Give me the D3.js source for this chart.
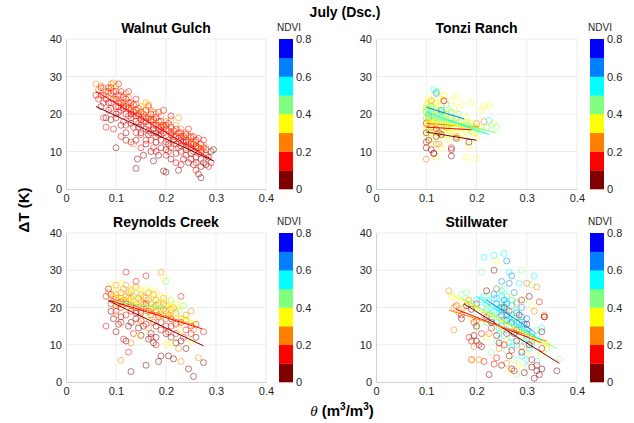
<!DOCTYPE html>
<html>
<head>
<meta charset="utf-8">
<script src="https://d3js.org/d3.v7.min.js"></script>
<style>
  body { margin: 0; background: #fff; }
  svg { font-family: "Liberation Sans", Arial, sans-serif; }
</style>
</head>
<body>
<div id="chart"></div>
<script>
// NDVI colour classes (jet, 8 steps)
var ndviBreaks = [0.1, 0.2, 0.3, 0.4, 0.5, 0.6, 0.7];
var ndviColors = ["#800000", "#ff0000", "#ff8000", "#ffff00", "#80ff80", "#00ffff", "#0080ff", "#0000ff"];
var cbTicks = [0, 0.2, 0.4, 0.6, 0.8];
var xTicks = [0, 0.1, 0.2, 0.3, 0.4];
var yTicks = [0, 10, 20, 30, 40];
var siteNames = ["Walnut Gulch", "Tonzi Ranch", "Reynolds Creek", "Stillwater"];

// points: [theta, dT] grouped by ndvi
var walnutGulch = [
  [0.05, [[0.07,22],[0.08,19],[0.09,18.5],[0.1,20],[0.1,11],[0.11,17],[0.12,15],[0.12,13],[0.13,17.5],[0.14,13],[0.14,5.5],[0.143,8],[0.15,15],[0.155,9],[0.16,12],[0.165,14.5],[0.17,10],[0.175,7.5],[0.18,12.5],[0.185,9],[0.19,11],[0.195,4.8],[0.2,4.5],[0.2,10.5],[0.21,8],[0.215,13],[0.22,9.5],[0.225,5],[0.23,11.5],[0.235,8],[0.24,10.5],[0.245,7],[0.25,9.5],[0.255,6.5],[0.26,8.5],[0.265,4],[0.27,3],[0.27,6],[0.275,7],[0.28,6.5],[0.29,10],[0.295,10.5],[0.285,8.5],[0.23,14],[0.175,16],[0.13,20],[0.085,23],[0.205,12],[0.25,11],[0.16,18],[0.19,14.5],[0.115,21.5],[0.145,16.5],[0.21,14.5],[0.24,12.5],[0.18,15],[0.26,11.5]]],
  [0.25, [[0.06,28],[0.065,26.5],[0.07,27.5],[0.075,27],[0.08,26],[0.09,28],[0.095,28.3],[0.1,27.5],[0.11,25],[0.12,25.5],[0.125,24.5],[0.13,22],[0.14,22.5],[0.15,22],[0.16,23],[0.165,22.5],[0.17,21],[0.175,20.5],[0.18,20],[0.19,19.5],[0.2,18],[0.21,18.5],[0.22,17],[0.225,19],[0.23,16],[0.24,15],[0.245,14],[0.25,13.5],[0.26,12.5],[0.265,11],[0.27,10.5],[0.28,11],[0.135,12],[0.155,19],[0.185,17],[0.205,14],[0.215,12],[0.24,11],[0.17,18],[0.195,16.5],[0.145,20],[0.115,23]]],
  [0.15, [[0.06,25],[0.065,24],[0.07,27],[0.075,25],[0.08,24],[0.085,26],[0.09,25.5],[0.09,23],[0.095,26],[0.1,24],[0.1,22],[0.105,25],[0.11,23],[0.11,21],[0.115,22],[0.12,24],[0.12,20],[0.125,21.5],[0.13,23],[0.13,19],[0.135,20.5],[0.14,21],[0.14,18],[0.145,19.5],[0.15,20.5],[0.15,17],[0.155,18],[0.16,21],[0.16,16],[0.165,19],[0.17,18.5],[0.17,15],[0.175,17],[0.18,19],[0.18,14],[0.185,16],[0.19,18],[0.19,13],[0.195,17],[0.2,16],[0.2,12.5],[0.205,17.5],[0.21,15],[0.21,11],[0.215,14],[0.22,16],[0.22,12],[0.225,13.5],[0.23,15],[0.23,10],[0.235,12.5],[0.24,13],[0.24,9],[0.245,11.5],[0.25,12],[0.25,8],[0.255,10],[0.26,11],[0.26,7],[0.265,9.5],[0.27,12],[0.27,8],[0.275,13],[0.28,9],[0.285,6],[0.29,7],[0.18,10],[0.16,13],[0.14,15],[0.12,17],[0.1,19],[0.085,21],[0.075,19],[0.2,9],[0.22,7],[0.15,11],[0.11,14],[0.13,12.5],[0.26,5],[0.23,6.5],[0.095,16],[0.08,16.5],[0.175,11],[0.195,21],[0.21,19.5],[0.165,22],[0.125,26],[0.105,28],[0.14,24],[0.185,20.5],[0.245,16],[0.255,14],[0.265,13.5],[0.205,10],[0.19,15.5],[0.17,13],[0.15,14.5],[0.135,16.5],[0.115,18],[0.105,20.5],
    [0.085,27],[0.09,27],[0.095,24],[0.1,26],[0.105,23],[0.11,26],[0.115,24.5],[0.12,22],[0.125,23],[0.13,21],[0.135,22.5],[0.14,19.5],[0.145,21.5],[0.15,18.5],[0.155,20],[0.16,19],[0.165,17],[0.17,20],[0.175,18.5],[0.18,17],[0.185,18],[0.19,16.5],[0.195,15],[0.2,17],[0.205,15.5],[0.21,16.5],[0.215,15.5],[0.22,14],[0.225,15],[0.23,13],[0.235,14],[0.24,14.5],[0.245,12.5],[0.25,14],[0.255,12],[0.26,13],[0.265,11],[0.27,10],[0.275,11],[0.28,10.5],[0.165,15.5],[0.185,14.5],[0.205,13],[0.225,11],[0.145,17.5],[0.125,19.5],[0.105,22],[0.09,21.5],[0.075,23],[0.07,25]]],
  [0.32, [[0.16,23],[0.095,27],[0.155,21.5]]]
];
var tonziRanch = [
  [0.35, [[0.1,22],[0.1,19],[0.105,24],[0.105,17],[0.11,21],[0.11,18.5],[0.115,25],[0.115,16],[0.12,23],[0.12,19.5],[0.125,22],[0.125,14.5],[0.13,24],[0.13,20],[0.135,18],[0.14,21.5],[0.14,16],[0.145,19],[0.15,23.5],[0.15,17.5],[0.155,15],[0.16,25],[0.16,20],[0.165,18],[0.17,22.5],[0.17,16],[0.175,14],[0.18,19],[0.18,8.5],[0.185,11.5],[0.19,23],[0.19,16.5],[0.2,8.2],[0.2,17],[0.21,21],[0.215,22],[0.225,22.3],[0.235,17.5],[0.12,8.5],[0.11,12],[0.13,11],[0.145,13],[0.165,13.5],[0.1,14],[0.2,13.5],[0.155,21.5],[0.135,25],[0.125,26],[0.1,20.5],[0.105,22.5],[0.115,17.5],[0.14,19.5],[0.16,15],[0.185,17.5],[0.195,15],
    [0.1,21],[0.1,17],[0.1,16],[0.102,23],[0.105,20],[0.105,18],[0.108,15],[0.11,22.5],[0.11,17],[0.112,14],[0.115,21],[0.115,19],[0.118,23],[0.12,18],[0.12,15],[0.122,20.5],[0.125,17],[0.128,21],[0.13,17.5],[0.13,14],[0.135,19.5],[0.135,16],[0.14,17.5],[0.14,14.5],[0.145,20.5],[0.145,15.5],[0.15,18.5],[0.15,16],[0.155,17],[0.16,18.5],[0.165,16.5],[0.17,17],[0.175,18],[0.18,15.5],[0.185,16],[0.19,17.5],[0.2,15.5],[0.21,16.5]]],
  [0.45, [[0.1,20.5],[0.1,18],[0.105,21.5],[0.11,19.5],[0.115,20],[0.12,21],[0.12,17],[0.125,18.5],[0.13,19],[0.135,20.5],[0.14,18.5],[0.145,17],[0.15,19],[0.155,18],[0.16,17.5],[0.165,20],[0.17,18],[0.175,16.5],[0.18,17],[0.19,15.5],[0.2,16],[0.21,15.5],[0.22,16.5],[0.24,16.5],[0.105,16],[0.13,15.5],
    [0.1,19],[0.1,21.5],[0.105,19.5],[0.11,20.5],[0.11,18],[0.115,18.5],[0.12,19],[0.125,20],[0.13,18],[0.135,17],[0.14,20],[0.15,17.5],[0.16,19],[0.17,16.5],[0.18,18],[0.185,16.5],[0.195,16.5],[0.23,17]]],
  [0.55, [[0.115,26.5],[0.12,26],[0.14,22.5],[0.225,18.3],[0.11,22],[0.15,20.5],[0.105,20],[0.13,20.5]]],
  [0.65, [[0.12,25.5],[0.13,21]]],
  [0.25, [[0.11,23.5],[0.12,12],[0.125,12],[0.135,23.5],[0.105,19],[0.2,17.5],[0.215,18],[0.1,8],[0.16,14],[0.11,16.5],[0.14,16.5]]],
  [0.15, [[0.1,12.5],[0.115,9.5],[0.15,11],[0.125,15],[0.135,23.5],[0.1,17.5],[0.12,16]]],
  [0.05, [[0.1,11],[0.11,10.5],[0.115,9.5],[0.15,8.8],[0.15,10.5],[0.12,14],[0.16,13.5],[0.185,12.5],[0.105,13],[0.1,15],[0.13,14.5]]]
];
var reynoldsCreek = [
  [0.05, [[0.085,25],[0.09,19],[0.095,17],[0.1,13.5],[0.105,15.5],[0.11,17.5],[0.12,11],[0.125,15],[0.13,2.8],[0.13,16],[0.14,17],[0.145,14.5],[0.15,12.5],[0.155,15],[0.16,4.5],[0.165,11.5],[0.17,13],[0.175,10.5],[0.18,12],[0.185,5.5],[0.19,7],[0.2,13],[0.205,7],[0.21,12],[0.215,6.2],[0.22,10.5],[0.23,11],[0.245,3.5],[0.255,1.5],[0.26,12],[0.275,5.2],[0.24,9],[0.15,18.5],[0.12,21],[0.18,15]]],
  [0.15, [[0.08,23],[0.08,15],[0.09,21],[0.1,22.5],[0.1,19],[0.11,20],[0.115,11.5],[0.12,29.5],[0.12,18],[0.125,8],[0.13,20.5],[0.135,13],[0.14,27],[0.14,18.5],[0.15,16.5],[0.155,21],[0.16,28.5],[0.165,19],[0.17,12],[0.175,16],[0.18,10],[0.185,17.5],[0.19,14],[0.2,17],[0.205,13.5],[0.21,15],[0.22,13],[0.23,23],[0.235,12],[0.24,14],[0.25,13],[0.26,15.5],[0.275,13.5],[0.11,16],[0.16,15.5],[0.195,19.5],
    [0.09,23.5],[0.1,20.5],[0.11,21.5],[0.12,23],[0.13,19],[0.14,20],[0.15,19],[0.16,21],[0.17,18],[0.18,19],[0.19,16],[0.2,15],[0.21,17],[0.22,15.5],[0.23,16],[0.25,15]]],
  [0.25, [[0.085,24],[0.095,22.5],[0.1,26],[0.11,24],[0.115,22],[0.12,26],[0.125,24],[0.13,22.5],[0.135,20],[0.14,25.5],[0.15,21.5],[0.155,23],[0.16,20.5],[0.165,22],[0.17,19.5],[0.175,23.5],[0.18,20.5],[0.185,18],[0.19,29.5],[0.195,21],[0.2,19],[0.21,17.5],[0.215,20],[0.22,16],[0.225,9],[0.23,5.5],[0.24,16.5],[0.25,19],[0.265,6.5],[0.11,5.8],[0.13,10.5],[0.1,18],[0.145,16],[0.165,14.5],[0.255,14],
    [0.1,23.5],[0.105,21],[0.11,22.5],[0.115,25],[0.12,21.5],[0.125,22.5],[0.13,24.5],[0.135,23],[0.14,21],[0.145,22.5],[0.15,23.5],[0.155,20],[0.16,22.5],[0.165,24],[0.17,21],[0.175,20],[0.18,22],[0.185,21],[0.19,19],[0.195,22.5],[0.2,20.5],[0.205,18],[0.21,19.5],[0.22,18.5],[0.23,17],[0.24,18]]],
  [0.35, [[0.09,26],[0.1,24.5],[0.11,26.5],[0.12,23],[0.13,25],[0.14,22],[0.15,24.5],[0.16,25],[0.17,22.5],[0.18,24],[0.19,21],[0.2,22.5],[0.205,20],[0.21,21.5],[0.22,19.5],[0.23,20.5],[0.24,17],[0.25,11],[0.2,10],[0.21,10.5],[0.145,12],[0.16,18],[0.19,17.5],[0.12,20],[0.23,14],[0.195,28],[0.17,17],[0.1,21],
    [0.11,23.5],[0.13,23],[0.15,22.5],[0.17,24.5],[0.18,21.5],[0.19,23],[0.2,21],[0.21,20],[0.22,21],[0.14,25]]],
  [0.45, [[0.2,27],[0.235,20.5],[0.21,22],[0.19,20],[0.225,19],[0.17,21.5],[0.14,23.5],[0.2,17]]]
];
var stillwater = [
  [0.55, [[0.2,22],[0.21,20],[0.215,23],[0.22,19],[0.225,21.5],[0.23,17],[0.235,22.5],[0.24,18.5],[0.24,25],[0.245,20],[0.25,16],[0.25,23],[0.255,19],[0.26,21.5],[0.26,14],[0.265,17],[0.27,22],[0.27,12],[0.275,15.5],[0.28,19],[0.28,10],[0.285,13.5],[0.29,16.5],[0.29,7],[0.295,11],[0.3,14],[0.305,9],[0.31,12],[0.315,28.5],[0.32,5.5],[0.33,14.5],[0.215,33.5],[0.235,34],[0.255,34.5],[0.25,24.5],[0.22,16],[0.265,29.5],[0.3,6],[0.245,13],[0.285,26.5],[0.27,9.5],
    [0.21,22],[0.22,21],[0.225,18],[0.23,20],[0.235,19],[0.24,16],[0.24,22.5],[0.245,17.5],[0.25,19.5],[0.25,21],[0.255,16.5],[0.26,19.5],[0.26,23],[0.265,15],[0.27,18],[0.27,20.5],[0.275,17],[0.28,14],[0.28,21.5],[0.285,16],[0.29,14.5],[0.295,13],[0.3,11.5],[0.305,13.5],[0.31,10],[0.32,12.5],[0.245,14.5],[0.255,12.5],[0.265,10.5]]],
  [0.65, [[0.26,32.5],[0.27,28.5],[0.265,26.5],[0.25,27],[0.24,21],[0.26,18],[0.28,16],[0.29,20],[0.3,17],[0.235,23.5],[0.255,22],[0.275,24],[0.31,13],[0.25,20],[0.26,21],[0.27,16],[0.28,18.5],[0.285,14],[0.29,17.5],[0.295,15.5]]],
  [0.45, [[0.17,23.5],[0.18,24],[0.19,21],[0.2,18],[0.21,29.5],[0.22,23],[0.23,8],[0.24,11],[0.25,20],[0.26,8.5],[0.27,19],[0.28,2],[0.29,30],[0.295,22],[0.3,4],[0.31,26],[0.32,14],[0.34,9],[0.365,6.2],[0.2,14.5],[0.235,15],[0.275,6],[0.255,25]]],
  [0.35, [[0.15,23],[0.16,21.5],[0.17,19.5],[0.18,22],[0.19,17],[0.2,20],[0.21,16],[0.22,12],[0.23,18],[0.24,32.5],[0.25,14],[0.26,11],[0.27,23],[0.28,17],[0.29,12.5],[0.3,8],[0.31,20.5],[0.32,11],[0.33,7.5],[0.34,10],[0.285,4.5],[0.225,20.5],[0.265,3],[0.195,6]]],
  [0.25, [[0.145,24.5],[0.155,20],[0.165,18.5],[0.175,20],[0.185,22],[0.195,9.5],[0.205,6],[0.215,18],[0.225,13],[0.24,25],[0.25,15],[0.26,5],[0.27,13.5],[0.28,21],[0.29,9.5],[0.3,26.5],[0.315,19],[0.32,25.5],[0.335,18],[0.155,14],[0.245,9],[0.31,11],[0.2,16.5]]],
  [0.15, [[0.16,20.5],[0.17,18],[0.185,12],[0.19,11],[0.195,16],[0.2,21],[0.21,13],[0.22,17.5],[0.23,14.5],[0.24,6.5],[0.25,18],[0.255,10],[0.26,13],[0.27,8.5],[0.275,3],[0.28,14],[0.29,22],[0.3,13],[0.31,6],[0.32,4.5],[0.325,21.5],[0.33,9],[0.335,17.5],[0.19,6],[0.215,5.5],[0.235,4.8],[0.265,19],[0.205,10]]],
  [0.05, [[0.17,17],[0.18,20.5],[0.19,19.5],[0.2,15],[0.21,9.5],[0.22,24.5],[0.225,2],[0.23,16],[0.235,30],[0.24,12.5],[0.25,4.5],[0.255,20],[0.26,16.5],[0.265,7],[0.27,3.5],[0.28,11],[0.285,18],[0.29,8],[0.295,2.5],[0.3,15.5],[0.305,23],[0.31,4],[0.315,1],[0.32,3],[0.325,2],[0.33,3.5],[0.33,13.5],[0.335,17.5],[0.36,3],[0.305,10],[0.275,13],[0.245,10.5],[0.2,11],[0.195,12.5]]]
];

// fitted lines: [ndvi, theta0, dT0, theta1, dT1]
var wgFits = [[0.05,0.06,22,0.295,7.5],[0.15,0.06,26,0.29,8],[0.25,0.08,25.5,0.28,10.5]];
var trFits = [[0.05,0.1,15.2,0.2,13],[0.15,0.1,16.5,0.19,15.8],[0.25,0.1,17.5,0.205,16.5],[0.35,0.1,18.2,0.21,16],[0.45,0.1,19.5,0.24,15],[0.55,0.1,20.5,0.225,14.5],[0.65,0.1,21.8,0.175,18.7]];
var rcFits = [[0.05,0.085,21.8,0.275,9.7],[0.15,0.085,22,0.272,14.3],[0.25,0.09,22.5,0.26,15],[0.35,0.09,23.5,0.265,15.8],[0.45,0.1,21.6,0.2,19.7]];
var swFits = [[0.05,0.175,21,0.365,5],[0.15,0.16,19.5,0.33,10.5],[0.25,0.145,19.3,0.34,11],[0.35,0.15,23.5,0.345,9.5],[0.45,0.17,22.5,0.36,9],[0.55,0.2,23,0.33,11],[0.65,0.22,22,0.31,14]];

var svgWidth = 634;
var svgHeight = 423;

var svg = d3.select("#chart")
  .append("svg")
  .attr("width", svgWidth)
  .attr("height", svgHeight);

var color = d3.scaleThreshold().domain(ndviBreaks).range(ndviColors);

var panels = [
  { left: 66, top: 39, width: 200, height: 150, pts: walnutGulch, fits: wgFits },
  { left: 376, top: 39, width: 201, height: 150, pts: tonziRanch, fits: trFits },
  { left: 66, top: 233, width: 200, height: 149, pts: reynoldsCreek, fits: rcFits },
  { left: 376, top: 233, width: 201, height: 149, pts: stillwater, fits: swFits }
];

panels.forEach(function(p, i) {
  var g = svg.append("g").attr("transform", `translate(${p.left}, ${p.top})`);

  var x = d3.scaleLinear().domain([0, 0.4]).range([0, p.width]);
  var y = d3.scaleLinear().domain([0, 40]).range([p.height, 0]);

  // grid
  g.append("g").selectAll("line").data(xTicks.slice(1)).enter().append("line")
    .attr("x1", d => x(d)).attr("x2", d => x(d))
    .attr("y1", 0).attr("y2", p.height)
    .attr("stroke", "#e8e8e8").attr("stroke-width", 0.8);
  g.append("g").selectAll("line").data(yTicks.slice(1)).enter().append("line")
    .attr("x1", 0).attr("x2", p.width)
    .attr("y1", d => y(d)).attr("y2", d => y(d))
    .attr("stroke", "#e8e8e8").attr("stroke-width", 0.8);

  // axes
  var xAxis = g.append("g")
    .attr("transform", `translate(0, ${p.height})`)
    .call(d3.axisBottom(x).tickValues(xTicks).tickSize(0).tickPadding(5).tickFormat(d3.format("")));
  var yAxis = g.append("g")
    .call(d3.axisLeft(y).tickValues(yTicks).tickSize(0).tickPadding(4));
  [xAxis, yAxis].forEach(function(a) {
    a.select(".domain").attr("stroke", "#c4c4c4").attr("stroke-width", 0.8);
    a.selectAll("text").attr("font-size", 11).attr("fill", "#262626")
      .attr("font-family", "'Liberation Sans', Arial, sans-serif");
  });

  // scatter
  p.pts.forEach(function(grp) {
    g.append("g").selectAll("circle").data(grp[1]).enter().append("circle")
      .attr("cx", d => x(d[0]))
      .attr("cy", d => y(d[1]))
      .attr("r", 3)
      .attr("fill", "none")
      .attr("stroke", color(grp[0]))
      .attr("stroke-width", 0.85)
      .attr("stroke-opacity", 0.62);
  });

  // regression lines
  g.append("g").selectAll("line").data(p.fits).enter().append("line")
    .attr("x1", d => x(d[1])).attr("y1", d => y(d[2]))
    .attr("x2", d => x(d[3])).attr("y2", d => y(d[4]))
    .attr("stroke", d => color(d[0]))
    .attr("stroke-width", 1);

  // title
  g.append("text")
    .attr("x", p.width / 2).attr("y", -6)
    .attr("text-anchor", "middle")
    .attr("font-size", 14).attr("font-weight", "bold")
    .text(siteNames[i]);

  // colorbar
  var cbX = p.width + 13;
  var cb = d3.scaleLinear().domain([0, 0.8]).range([p.height, 0]);
  var steps = d3.range(ndviColors.length);
  g.append("g").selectAll("rect").data(steps).enter().append("rect")
    .attr("x", cbX)
    .attr("y", d => cb((d + 1) * 0.1))
    .attr("width", 14)
    .attr("height", d => cb(d * 0.1) - cb((d + 1) * 0.1) + 0.3)
    .attr("fill", d => ndviColors[d]);
  g.append("g").selectAll("text").data(cbTicks).enter().append("text")
    .attr("x", cbX + 17)
    .attr("y", d => cb(d) + 4)
    .attr("font-size", 11).attr("fill", "#262626")
    .text(d => d === 0 ? "0" : d3.format(".1f")(d));
  g.append("text")
    .attr("x", cbX + 10).attr("y", -8)
    .attr("text-anchor", "middle")
    .attr("font-size", 10).attr("fill", "#262626")
    .text("NDVI");
});

// overall labels
svg.append("text")
  .attr("x", 345).attr("y", 17)
  .attr("text-anchor", "middle")
  .attr("font-size", 14).attr("font-weight", "bold")
  .text("July (Dsc.)");

svg.append("text")
  .attr("transform", "translate(29, 210) rotate(-90)")
  .attr("text-anchor", "middle")
  .attr("font-size", 15).attr("font-weight", "bold")
  .text("\u0394T (K)");

var xLabel = svg.append("text")
  .attr("x", 342).attr("y", 416)
  .attr("text-anchor", "middle")
  .attr("font-size", 15).attr("font-weight", "bold");
xLabel.append("tspan").attr("font-style", "italic").attr("font-weight", "normal")
  .attr("font-family", "'Liberation Serif', serif").text("\u03b8");
xLabel.append("tspan").text(" (m");
xLabel.append("tspan").attr("dy", -6).attr("font-size", 10).text("3");
xLabel.append("tspan").attr("dy", 6).text("/m");
xLabel.append("tspan").attr("dy", -6).attr("font-size", 10).text("3");
xLabel.append("tspan").attr("dy", 6).text(")");
</script>
</body>
</html>
